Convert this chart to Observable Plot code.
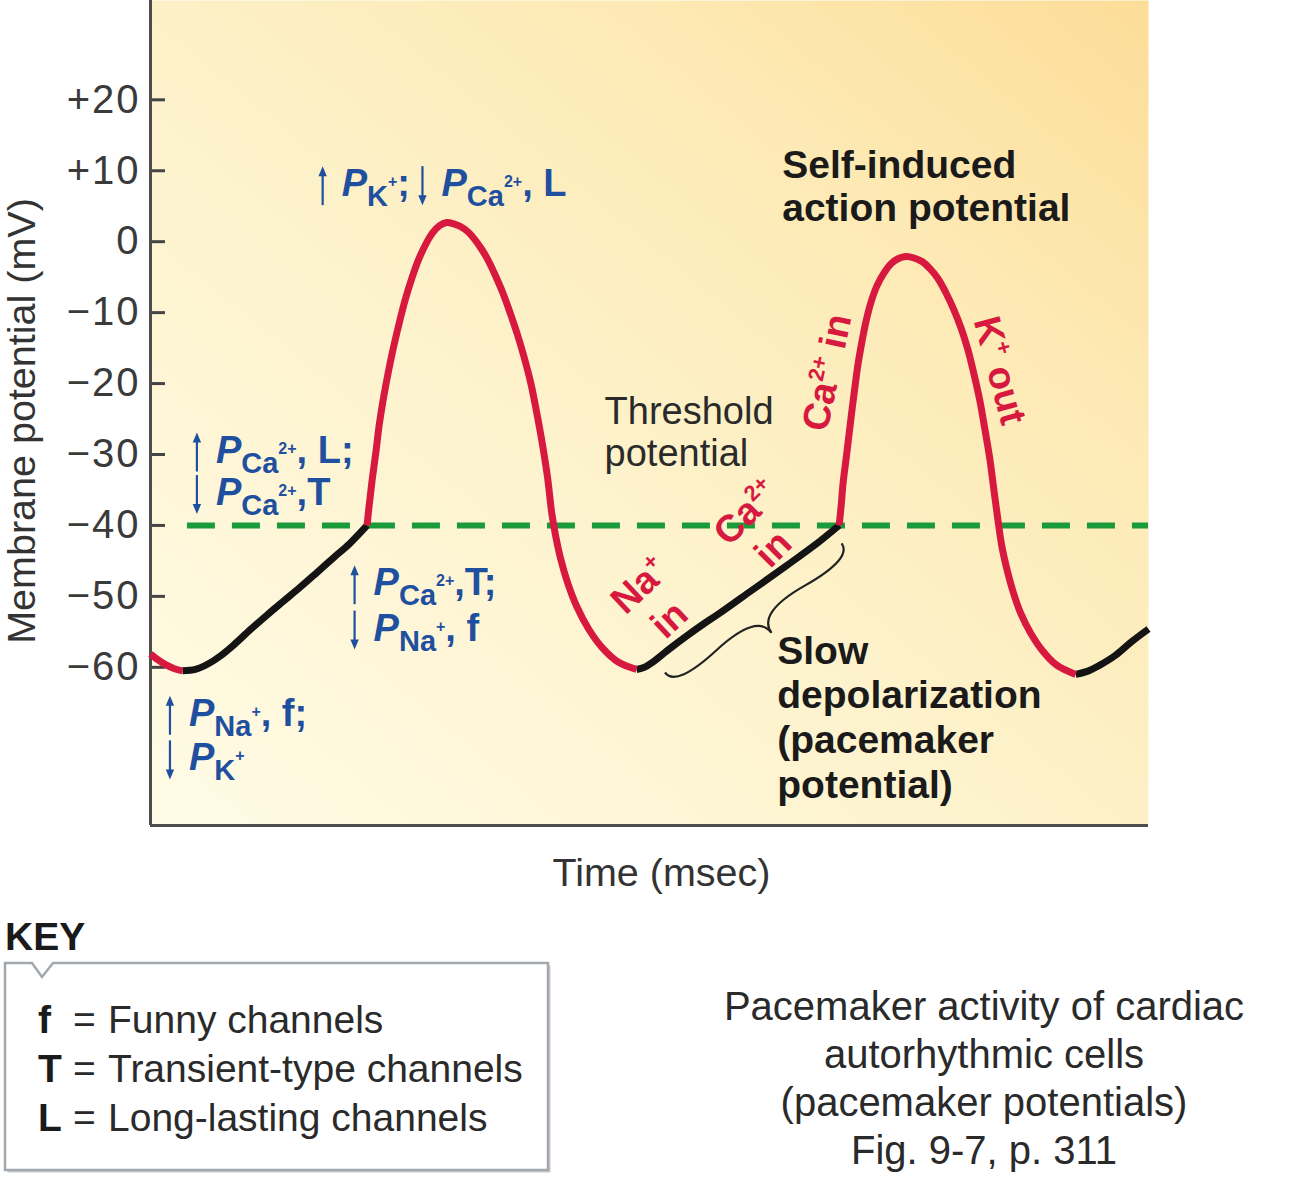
<!DOCTYPE html>
<html>
<head>
<meta charset="utf-8">
<script src="https://cdn.jsdelivr.net/npm/d3@7"></script>
<script src="https://cdn.jsdelivr.net/npm/@observablehq/plot@0.6"></script>
<style>
  body { margin: 0; background: #fff; font-family: 'Liberation Sans', Arial, sans-serif; }
  #wrap { position: relative; width: 1298px; height: 1200px; overflow: hidden; }
  #chart svg { display: block; }
  g[aria-label="y-axis tick label"] text { letter-spacing: 2px; }
  #overlay { position: absolute; left: 0; top: 0; pointer-events: none; }
  #keyTitle { position: absolute; left: 5px; top: 917px; font-size: 39px; line-height: 39px; font-weight: bold; color: #1a1a1a; }
  #keyLines { position: absolute; left: 38px; top: 995px; font-size: 39px; line-height: 49px; color: #2a2a2a; white-space: nowrap; }
  #keyLines .k { display: inline-block; width: 35px; font-weight: bold; color: #1a1a1a; }
  #keyLines .eq { display: inline-block; width: 35px; }
  #caption { position: absolute; left: 634px; width: 700px; top: 982px; text-align: center; font-size: 40px; line-height: 48px; color: #2a2a2a; }
</style>
</head>
<body>
<div id="wrap">
  <div id="chart"></div>
  <svg id="overlay" width="1298" height="1200">
    <path d="M7.5,965.5 H34.5 L44.5,979.5 L55.5,965.5 H550.5 V1172.5 H7.5 Z" fill="#c8ccd0"/>
    <path d="M5,963 H32 L42,977 L53,963 H548 V1170 H5 Z" fill="#fff" stroke="#a2a8ad" stroke-width="2.5"/>
  </svg>
  <div id="keyTitle">KEY</div>
  <div id="keyLines"></div>
  <div id="caption"></div>
</div>
<script>
// ---------------- data ----------------
const FONT = "'Liberation Sans', Arial, sans-serif";

// y axis ticks (mV)
const yTicks = [-60, -50, -40, -30, -20, -10, 0, 10, 20];
const thresholdMv = -40;
const thresholdStart = 37;   // time where the dashed threshold line begins

// membrane-potential trace, by segment (time in arbitrary msec units, potential in mV)
const segNames = ["end of previous AP", "pacemaker 1", "action potential 1", "pacemaker 2", "action potential 2", "pacemaker 3"];
const segType  = ["ap", "pm", "ap", "pm", "ap", "pm"];
const segTime = [
  [0, 8, 16, 24, 32],
  [32, 45, 58, 70, 83, 100, 117, 133, 150, 167, 183, 200, 217],
  [217, 219, 222, 226, 229, 233, 238, 243, 249, 255, 262, 269, 276, 283, 290, 297,
   304, 311, 318, 325, 332, 339, 346, 353, 360, 367, 374, 381, 387, 393, 398, 402, 406, 411, 418, 427, 439, 453, 469, 487],
  [487, 495, 503, 512, 520, 537, 553, 570, 603, 637, 670, 690],
  [690, 692, 694, 697, 700, 703, 706, 709, 713, 717, 722, 728, 735, 742, 749, 757,
   765, 773, 781, 789, 797, 805, 812, 819, 825, 831, 836, 841, 845, 849, 853, 858, 864, 872, 882, 894, 908, 927],
  [927, 940, 950, 967, 983, 1000]
];
const segVoltage = [
  [-58.1, -59.0, -59.7, -60.2, -60.5],
  [-60.5, -60.3, -59.5, -58.4, -56.9, -54.7, -52.6, -50.7, -48.7, -46.6, -44.6, -42.5, -40],
  [-40, -37.3, -33.7, -29.5, -26.0, -22.4, -18.6, -15.2, -11.6, -8.3, -5.1, -2.4, -0.3, 1.3, 2.3, 2.7,
   2.5, 2.1, 1.4, 0.3, -1.1, -2.8, -4.9, -7.2, -9.9, -12.8, -16.1, -19.9, -24.1, -28.8, -33.4, -38.2, -41.5, -44.7, -48.1, -51.4, -54.6, -57.3, -59.3, -60.3],
  [-60.3, -60.0, -59.3, -58.3, -57.4, -55.6, -54.0, -52.4, -49.1, -45.7, -42.3, -40],
  [-40, -37.3, -34.0, -30.6, -27.1, -23.6, -20.3, -17.2, -14.0, -11.2, -8.5, -6.2, -4.4, -3.1, -2.4, -2.1,
   -2.3, -2.8, -3.8, -5.2, -7.2, -9.6, -12.1, -15.2, -18.6, -22.4, -26.4, -30.6, -34.9, -39.1, -42.9, -46.1, -49.2, -52.4, -55.2, -57.7, -59.7, -61.0],
  [-61.0, -60.5, -59.8, -58.3, -56.4, -54.6]
];

// text annotations
const thresholdNote = [{text: "Threshold\npotential", t: 455, v: -31.6}];
const selfNote = [{text: "Self-induced\naction potential", t: 633, v: 2.96}];
const slowNote = [{text: "Slow\ndepolarization\n(pacemaker\npotential)", t: 628, v: -78.4}];

// channel permeability notes (blue): arrow direction + rich text runs
const channelNotes = [
  {t: 173, v: 6.35,  dir: "up",   runs: [["P", "P"], ["K", "sub"], ["+", "sup"], [";", "n"]]},
  {t: 273, v: 6.35,  dir: "down", runs: [["P", "P"], ["Ca", "sub"], ["2+", "sup"], [", L", "n"]]},
  {t: 47,  v: -31.2, dir: "up",   runs: [["P", "P"], ["Ca", "sub"], ["2+", "sup"], [", L;", "n"]]},
  {t: 47,  v: -37.2, dir: "down", runs: [["P", "P"], ["Ca", "sub"], ["2+", "sup"], [",T", "n"]]},
  {t: 205, v: -49.9, dir: "up",   runs: [["P", "P"], ["Ca", "sub"], ["2+", "sup"], [",T;", "n"]]},
  {t: 205, v: -56.3, dir: "down", runs: [["P", "P"], ["Na", "sub"], ["+", "sup"], [", f", "n"]]},
  {t: 20,  v: -68.3, dir: "up",   runs: [["P", "P"], ["Na", "sub"], ["+", "sup"], [", f;", "n"]]},
  {t: 20,  v: -74.6, dir: "down", runs: [["P", "P"], ["K", "sub"], ["+", "sup"]]}
];

// ion movement notes (red, rotated)
const ionNotes = [
  {t: 490, v: -48.5, angle: -43, runs: [["Na", "n"], ["+", "sup"]]},
  {t: 520, v: -53.3, angle: -43, runs: [["in", "n"]]},
  {t: 597, v: -38.2, angle: -45, runs: [["Ca", "n"], ["2+", "sup"]]},
  {t: 624, v: -43.3, angle: -45, runs: [["in", "n"]]},
  {t: 678, v: -18.5, angle: -78, runs: [["Ca", "n"], ["2+", "sup"], [" in", "n"]]},
  {t: 852, v: -18.2, angle: 75,  runs: [["K", "n"], ["+", "sup"], [" out", "n"]]}
];

// brace under the slow depolarization
const braceEnds = [{t: 516, v: -60.8}, {t: 693, v: -42.6}];

// key + caption
const keyLetters = ["f", "T", "L"];
const keyMeanings = ["Funny channels", "Transient-type channels", "Long-lasting channels"];
const captionLines = ["Pacemaker activity of cardiac", "autorhythmic cells", "(pacemaker potentials)", "Fig. 9-7, p. 311"];

// ---------------- styles ----------------
const RED = "#d7183f", BLACK = "#141414", GREEN = "#1b9a3b", BLUE = "#1f4f9f";
const X_DOMAIN = [0, 1000], Y_DOMAIN = [-82.3, 34.0];

const blueStyles = {P: {size: 38, italic: true, offset: 0}, sub: {size: 29, offset: 10}, sup: {size: 16, offset: -9}, n: {size: 38, offset: 0}};
const redStyles = {n: {size: 38, offset: 0}, sup: {size: 22, offset: -15}};

function addRuns(text, runs, styles) {
  let cur = 0;
  for (const [str, kind] of runs) {
    const s = styles[kind];
    const ts = text.append("tspan").text(str).attr("font-size", s.size);
    if (s.italic) ts.attr("font-style", "italic");
    if (s.offset !== cur) { ts.attr("dy", s.offset - cur); cur = s.offset; }
  }
}

const rows = segNames.flatMap((name, i) => segTime[i].map((t, j) => ({seg: name, type: segType[i], t, v: segVoltage[i][j]})));

const defsMark = () => {
  const defs = d3.create("svg:defs");
  const lg = defs.append("linearGradient").attr("id", "bgGrad").attr("x1", 0).attr("y1", 1).attr("x2", 1).attr("y2", 0);
  [[0, "#fffbe6"], [0.45, "#fdf2cb"], [0.75, "#fde9b3"], [1, "#fcdd98"]].forEach(([o, c]) => lg.append("stop").attr("offset", o).attr("stop-color", c));
  return defs.node();
};

const channelMark = (index, scales) => {
  const g = d3.create("svg:g").attr("fill", BLUE).attr("font-weight", "bold").attr("font-family", FONT).attr("text-anchor", "start");
  for (const it of channelNotes) {
    const x = scales.x(it.t), y = scales.y(it.v);
    const top = y - 30, bot = y + 9;
    g.append("line").attr("x1", x).attr("x2", x)
      .attr("y1", it.dir === "up" ? top + 8 : top).attr("y2", it.dir === "up" ? bot : bot - 8)
      .attr("stroke", BLUE).attr("stroke-width", 2.2);
    const head = it.dir === "up"
      ? `M${x},${top}L${x - 4.2},${top + 10}L${x + 4.2},${top + 10}Z`
      : `M${x},${bot}L${x - 4.2},${bot - 10}L${x + 4.2},${bot - 10}Z`;
    g.append("path").attr("d", head);
    const text = g.append("text").attr("x", x + 19).attr("y", y).attr("text-anchor", "start");
    addRuns(text, it.runs, blueStyles);
  }
  return g.node();
};

const ionMark = (index, scales) => {
  const g = d3.create("svg:g").attr("fill", RED).attr("font-weight", "bold").attr("font-family", FONT);
  for (const it of ionNotes) {
    const x = scales.x(it.t), y = scales.y(it.v);
    const text = g.append("text").attr("transform", `translate(${x},${y}) rotate(${it.angle})`)
      .attr("text-anchor", "middle").attr("y", 13);
    addRuns(text, it.runs, redStyles);
  }
  return g.node();
};

function bracePath(x1, y1, x2, y2, w, q) {
  let dx = x1 - x2, dy = y1 - y2;
  const len = Math.hypot(dx, dy); dx /= len; dy /= len;
  const qx1 = x1 + q * w * dy, qy1 = y1 - q * w * dx;
  const qx2 = (x1 - .25 * len * dx) + (1 - q) * w * dy, qy2 = (y1 - .25 * len * dy) - (1 - q) * w * dx;
  const tx1 = (x1 - .5 * len * dx) + w * dy, ty1 = (y1 - .5 * len * dy) - w * dx;
  const qx3 = x2 + q * w * dy, qy3 = y2 - q * w * dx;
  const qx4 = (x1 - .75 * len * dx) + (1 - q) * w * dy, qy4 = (y1 - .75 * len * dy) - (1 - q) * w * dx;
  return `M${x1},${y1}Q${qx1},${qy1} ${qx2},${qy2}T${tx1},${ty1}M${x2},${y2}Q${qx3},${qy3} ${qx4},${qy4}T${tx1},${ty1}`;
}

const braceMark = (index, scales) => {
  const [a, b] = braceEnds;
  return d3.create("svg:path")
    .attr("d", bracePath(scales.x(a.t), scales.y(a.v), scales.x(b.t), scales.y(b.v), 31, 0.6))
    .attr("fill", "none").attr("stroke", "#222").attr("stroke-width", 2.2).node();
};

const fmt = d => d > 0 ? "+" + d : d < 0 ? "\u2212" + Math.abs(d) : "0";

const chart = Plot.plot({
  width: 1298, height: 900,
  marginLeft: 150, marginRight: 150, marginTop: 0, marginBottom: 75,
  x: {domain: X_DOMAIN, axis: null},
  y: {domain: Y_DOMAIN},
  style: {fontFamily: FONT, background: "transparent", color: "#333", overflow: "visible"},
  marks: [
    defsMark,
    Plot.frame({fill: "url(#bgGrad)", stroke: null}),
    Plot.ruleY(yTicks, {x1: X_DOMAIN[0], x2: X_DOMAIN[0] + 15, stroke: "#444", strokeWidth: 3}),
    Plot.axisY({ticks: yTicks, tickFormat: fmt, tickSize: 0, tickPadding: 10, fontSize: 40, color: "#3a3a3a", label: null}),
    Plot.ruleX([X_DOMAIN[0]], {stroke: "#4d4d4d", strokeWidth: 3}),
    Plot.ruleY([Y_DOMAIN[0]], {stroke: "#4d4d4d", strokeWidth: 3}),
    Plot.ruleY([thresholdMv], {x1: thresholdStart, x2: X_DOMAIN[1], stroke: GREEN, strokeWidth: 6, strokeDasharray: "28,17"}),
    Plot.line(rows, {filter: d => d.type === "pm", x: "t", y: "v", z: "seg", stroke: BLACK, strokeWidth: 7, curve: "catmull-rom", strokeLinecap: "butt"}),
    Plot.line(rows, {filter: d => d.type === "ap", x: "t", y: "v", z: "seg", stroke: RED, strokeWidth: 7, curve: "catmull-rom", strokeLinecap: "butt"}),
    braceMark,
    Plot.text(thresholdNote, {x: "t", y: "v", text: "text", textAnchor: "start", lineAnchor: "bottom", lineHeight: 1.105, fontSize: 38, fill: "#2a2a2a"}),
    Plot.text(selfNote, {x: "t", y: "v", text: "text", textAnchor: "start", lineAnchor: "bottom", lineHeight: 1.10, fontSize: 39, fontWeight: "bold", fill: "#1a1a1a"}),
    Plot.text(slowNote, {x: "t", y: "v", text: "text", textAnchor: "start", lineAnchor: "bottom", lineHeight: 1.146, fontSize: 39, fontWeight: "bold", fill: "#1a1a1a"}),
    channelMark,
    ionMark,
    Plot.text(["Membrane potential (mV)"], {frameAnchor: "left", text: d => d, textAnchor: "middle", rotate: -90, dx: -128, dy: 8, fontSize: 39.5, fill: "#333"}),
    Plot.text(["Time (msec)"], {frameAnchor: "bottom", text: d => d, textAnchor: "middle", dx: 12, dy: 60, lineAnchor: "bottom", fontSize: 39.5, fill: "#333"})
  ]
});
document.getElementById("chart").appendChild(chart);

// key and caption (HTML below the plot)
document.getElementById("keyLines").innerHTML = keyLetters.map((k, i) =>
  `<div><span class="k">${k}</span><span class="eq">=</span>${keyMeanings[i]}</div>`).join("");
document.getElementById("caption").innerHTML = captionLines.join("<br>");
</script>
</body>
</html>
